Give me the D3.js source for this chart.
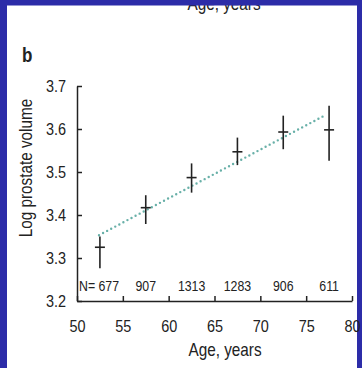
<!DOCTYPE html>
<meta charset="utf-8">
<style>
  body { margin: 0; background: #2c2ca8; }
  svg { display: block; }
  .tick text { font-family: "Liberation Sans", Arial, sans-serif; font-size: 17px; fill: #222; }
  .axis path, .axis line { stroke: #222; stroke-width: 1.5; }
  .lab { font-family: "Liberation Sans", Arial, sans-serif; fill: #222; }
</style>
<body>
<div id="chart"></div>
<script src="https://d3js.org/d3.v7.min.js"></script>
<script>

// data
var ages = [52.5, 57.5, 62.5, 67.5, 72.5, 77.5];
var means = [3.325, 3.417, 3.487, 3.547, 3.593, 3.598];
var upper = [3.350, 3.446, 3.520, 3.580, 3.631, 3.654];
var lower = [3.276, 3.379, 3.452, 3.516, 3.553, 3.526];
var counts = [677, 907, 1313, 1283, 906, 611];
var fitAges = [52.4, 76.8];
var fitValues = [3.353, 3.629];
var xTicks = [50, 55, 60, 65, 70, 75, 80];
var yTicks = [3.2, 3.3, 3.4, 3.5, 3.6, 3.7];

var W = 362, H = 368;
var sq = 0.85;  // squeeze text horizontally, the original uses a condensed face

var x = d3.scaleLinear().domain([50, 80]).range([77, 352]);
var y = d3.scaleLinear().domain([3.2, 3.7]).range([301, 86]);

var svg = d3.select("#chart").append("svg")
    .attr("width", W)
    .attr("height", H);

function label(tx, ty, rot, size, anchor, str) {
  return svg.append("text")
      .attr("class", "lab")
      .attr("transform", "translate(" + tx + "," + ty + ")" + (rot ? " rotate(" + rot + ")" : "") + " scale(" + sq + ",1)")
      .attr("text-anchor", anchor)
      .style("font-size", size + "px")
      .text(str);
}

// slide background + white panel
svg.append("rect").attr("width", W).attr("height", H).attr("fill", "#2c2ca8");
svg.append("rect").attr("x", 7).attr("y", 0).attr("width", 350).attr("height", H).attr("fill", "#fff");

// cut-off label from the panel above
label(224, 9.5, 0, 18, "middle", "Age, years");

// blue top strip covers the top of that label
svg.append("rect").attr("x", 0).attr("y", 0).attr("width", W).attr("height", 5.5).attr("fill", "#2c2ca8");

label(22, 62, 0, 20, "start", "b").style("font-weight", "bold");

// axes
svg.append("g")
    .attr("class", "axis")
    .attr("transform", "translate(0," + y(3.2) + ")")
    .call(d3.axisBottom(x).tickValues(xTicks).tickSizeInner(-5).tickSizeOuter(0).tickPadding(19)
      .tickFormat(d3.format("d")))
  .selectAll(".tick text")
    .attr("transform", "scale(" + sq + ",1)");

svg.append("g")
    .attr("class", "axis")
    .attr("transform", "translate(" + x(50) + ",0)")
    .call(d3.axisLeft(y).tickValues(yTicks).tickSizeInner(-5).tickSizeOuter(0).tickPadding(11)
      .tickFormat(d3.format(".1f")))
  .selectAll(".tick text")
    .attr("x", -11 / sq)
    .attr("transform", "scale(" + sq + ",1)");

// fitted line (dotted)
var fit = fitAges.map(function(a, i) { return {age: a, v: fitValues[i]}; });
svg.append("path")
    .datum(fit)
    .attr("d", d3.line().x(function(d) { return x(d.age); }).y(function(d) { return y(d.v); }))
    .attr("fill", "none")
    .attr("stroke", "#68b0a8")
    .attr("stroke-width", 2.4)
    .attr("stroke-linecap", "round")
    .attr("stroke-dasharray", "0,4.6");

// error bars
var pts = ages.map(function(a, i) { return {age: a, m: means[i], hi: upper[i], lo: lower[i], n: counts[i]}; });
var bars = svg.selectAll(".bar").data(pts).enter().append("g").attr("class", "bar");
bars.append("line")
    .attr("x1", function(d) { return x(d.age); })
    .attr("x2", function(d) { return x(d.age); })
    .attr("y1", function(d) { return y(d.hi); })
    .attr("y2", function(d) { return y(d.lo); })
    .attr("stroke", "#222").attr("stroke-width", 1.6);
bars.append("line")
    .attr("x1", function(d) { return x(d.age) - 5; })
    .attr("x2", function(d) { return x(d.age) + 5; })
    .attr("y1", function(d) { return y(d.m); })
    .attr("y2", function(d) { return y(d.m); })
    .attr("stroke", "#222").attr("stroke-width", 1.6);

// sample sizes
pts.forEach(function(d, i) {
  if (i == 0) label(x(50) + 2, 291, 0, 14.5, "start", "N= " + d.n);
  else label(x(d.age), 291, 0, 14.5, "middle", d.n);
});

// axis titles
label(225, 356, 0, 18, "middle", "Age, years");
label(32, 168, -90, 18, "middle", "Log prostate volume");

</script>
</body>
